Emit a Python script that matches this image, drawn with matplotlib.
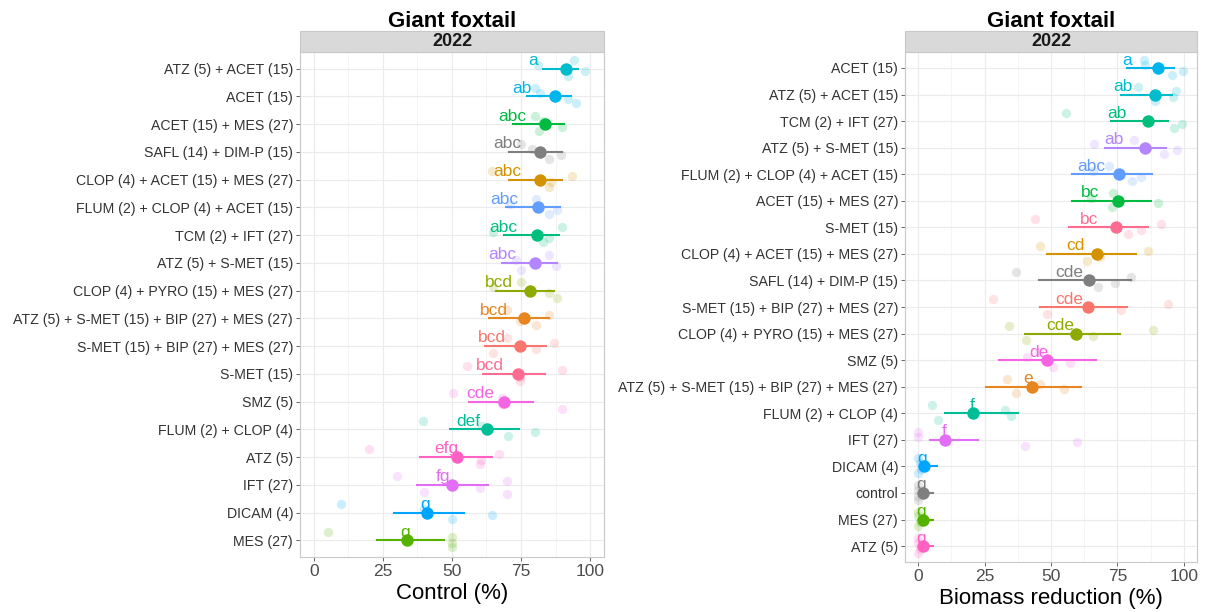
import numpy as np
import matplotlib
matplotlib.use("Agg")
import matplotlib.pyplot as plt
from matplotlib.patches import Rectangle

plt.rcParams['font.family'] = ['Liberation Sans', 'DejaVu Sans']

# treatment colours (shared by both panels)
pal = {
    'S-MET (15) + BIP (27) + MES (27)': '#F8766D',
    'ATZ (5) + S-MET (15) + BIP (27) + MES (27)': '#E7851E',
    'CLOP (4) + ACET (15) + MES (27)': '#D39200',
    'CLOP (4) + PYRO (15) + MES (27)': '#8DAA00',
    'MES (27)': '#55B300',
    'ACET (15) + MES (27)': '#00BA42',
    'TCM (2) + IFT (27)': '#00BF7D',
    'FLUM (2) + CLOP (4)': '#00BE98',
    'ATZ (5) + ACET (15)': '#00BCCC',
    'ACET (15)': '#00B4EC',
    'DICAM (4)': '#00A5FF',
    'FLUM (2) + CLOP (4) + ACET (15)': '#619CFF',
    'ATZ (5) + S-MET (15)': '#B385FF',
    'IFT (27)': '#E36EF6',
    'SMZ (5)': '#F564E3',
    'ATZ (5)': '#FF61C3',
    'S-MET (15)': '#FF6C91',
    'SAFL (14) + DIM-P (15)': '#7F7F7F',
    'control': '#7F7F7F',
}

# ---- control (%) ----
ctrl_trt = ['ATZ (5) + ACET (15)', 'ACET (15)', 'ACET (15) + MES (27)',
            'SAFL (14) + DIM-P (15)', 'CLOP (4) + ACET (15) + MES (27)',
            'FLUM (2) + CLOP (4) + ACET (15)', 'TCM (2) + IFT (27)',
            'ATZ (5) + S-MET (15)', 'CLOP (4) + PYRO (15) + MES (27)',
            'ATZ (5) + S-MET (15) + BIP (27) + MES (27)',
            'S-MET (15) + BIP (27) + MES (27)', 'S-MET (15)', 'SMZ (5)',
            'FLUM (2) + CLOP (4)', 'ATZ (5)', 'IFT (27)', 'DICAM (4)', 'MES (27)']
ctrl_mean = [91.3, 87.3, 83.7, 82, 82, 81, 80.7, 80, 78.3, 76, 74.6, 74, 69,
             62.8, 51.8, 50, 41, 33.7]
ctrl_lo = [83, 77, 72, 70.5, 70.5, 69.5, 69, 68, 66, 63.4, 62, 61.4, 56,
           49.3, 38.6, 37.2, 29, 22.8]
ctrl_hi = [95.6, 93, 90.6, 90, 90, 89, 88.7, 88, 87, 85, 84, 83.7, 79.5,
           74.4, 64.5, 63, 54.3, 47]
ctrl_let = ['a', 'ab', 'abc', 'abc', 'abc', 'abc', 'abc', 'abc', 'bcd', 'bcd',
            'bcd', 'bcd', 'cde', 'def', 'efg', 'fg', 'g', 'g']
ctrl_raw = [[94, 92, 98, 81], [80, 95, 92, 82], [80, 81.5, 90, 83],
            [75, 85, 89.5, 79], [64.5, 85, 86, 93.5], [80.4, 85, 88, 71],
            [90, 83, 85, 65], [85, 75, 87.7, 73], [75, 88, 85, 65],
            [70, 80.4, 74.6, 85], [70, 65, 80.4, 87], [55.3, 74.6, 74.6, 90],
            [50.4, 90, 68, 68], [39.5, 70.3, 80, 61], [20, 60, 60.4, 67],
            [30, 40, 60, 70, 70], [10, 50, 64.5, 40], [5, 50, 50, 50]]

# ---- biomass reduction (%) ----
bio_trt = ['ACET (15)', 'ATZ (5) + ACET (15)', 'TCM (2) + IFT (27)',
           'ATZ (5) + S-MET (15)', 'FLUM (2) + CLOP (4) + ACET (15)',
           'ACET (15) + MES (27)', 'S-MET (15)', 'CLOP (4) + ACET (15) + MES (27)',
           'SAFL (14) + DIM-P (15)', 'S-MET (15) + BIP (27) + MES (27)',
           'CLOP (4) + PYRO (15) + MES (27)', 'SMZ (5)',
           'ATZ (5) + S-MET (15) + BIP (27) + MES (27)', 'FLUM (2) + CLOP (4)',
           'IFT (27)', 'DICAM (4)', 'control', 'MES (27)', 'ATZ (5)']
bio_mean = [90.5, 89, 86.7, 85.6, 75.8, 75.4, 74.6, 67.4, 64.4, 64, 59.5,
            48.5, 42.8, 20.8, 10.2, 2, 1.6, 1.6, 1.6]
bio_lo = [78.8, 76.5, 72.7, 70.5, 57.9, 57.9, 56.8, 48.5, 45.5, 45.8, 40.2,
          30.3, 25.4, 10.2, 4.5, 0.5, 0.5, 0.5, 0.5]
bio_hi = [96.2, 95.5, 93.9, 93.5, 87.9, 87.5, 86.7, 82, 80, 78.8, 76, 67,
          61.4, 37.5, 22.4, 7.2, 5.7, 5.7, 5.7]
bio_let = ['a', 'ab', 'ab', 'ab', 'abc', 'bc', 'bc', 'cd', 'cde', 'cde', 'cde',
           'de', 'e', 'f', 'f', 'g', 'g', 'g', 'g']
bio_raw = [[85, 95.5, 99.6, 85.6], [82.6, 89, 95.8, 97], [55.7, 96.2, 99.2],
           [81.4, 92.4, 97.3, 66.3], [72, 80.7, 84, 66], [73.5, 73, 90.5, 65],
           [44, 79, 84, 91.3], [46, 63.6, 68.5, 86.7], [37, 67.8, 74.2, 80],
           [28, 48.5, 76.5, 93.9], [34, 40.5, 65.9, 88.6], [45.5, 50.8, 57.2, 41],
           [33.3, 37, 55, 46], [5.2, 7.6, 35, 32.6], [0, 40.2, 59.8, 0],
           [0, 0, 1, 0.5], [0, 0, 0, 0], [0, 0, 0.5, 0], [0, 0, 0.5, 0]]

# fixed vertical spread for the raw observations
spread = [-0.3, 0.25, 0.1, -0.12, 0.32]


def panel(ax, trt, mean, lo, hi, letters, raw, xlabel):
    n = len(trt)
    rows = np.arange(n)
    ax.set_xlim(-5, 105)
    ax.set_ylim(n - 0.4, -0.6)
    ax.set_xticks([0, 25, 50, 75, 100])
    ax.set_xticks([12.5, 37.5, 62.5, 87.5], minor=True)
    ax.set_yticks(rows)
    ax.set_yticklabels(trt, fontsize=10.2, color='#333333')
    ax.tick_params(axis='x', labelsize=12.5, colors='#4D4D4D', length=3,
                   width=0.6, pad=2)
    ax.tick_params(axis='y', colors='#4D4D4D', length=3, width=0.6, pad=2)
    ax.tick_params(axis='x', which='minor', length=0)
    for lab in ax.get_yticklabels():
        lab.set_color('#333333')
    ax.grid(True, which='major', color='#EBEBEB', lw=0.8)
    ax.grid(True, which='minor', axis='x', color='#F4F4F4', lw=0.6)
    ax.set_axisbelow(True)
    for s in ax.spines.values():
        s.set_color('#C8C8C8')
        s.set_linewidth(0.8)

    for i in range(n):
        c = pal[trt[i]]
        pts = raw[i]
        ys = [i + spread[k % len(spread)] for k in range(len(pts))]
        ax.scatter(pts, ys, s=45, color=c, alpha=0.2, lw=0, zorder=2)
        ax.plot([lo[i], hi[i]], [i, i], color=c, lw=1.5, zorder=3)
        ax.scatter([mean[i]], [i], s=80, color=c, lw=0, zorder=4)
        shift = min(max(0.28 * (mean[i] - 38), 0.5), 12)
        ax.text(mean[i] - shift, i - 0.13, letters[i], color=c, fontsize=12.5,
                ha='center', va='baseline', zorder=5)

    ax.set_xlabel(xlabel, fontsize=16, labelpad=3)

    # facet strip and title
    strip = Rectangle((0, 1.0), 1, 0.041, transform=ax.transAxes,
                      facecolor='#D9D9D9', edgecolor='#C8C8C8', lw=0.8,
                      clip_on=False)
    ax.add_patch(strip)
    ax.text(0.5, 1.0205, '2022', transform=ax.transAxes, ha='center',
            va='center', fontsize=13, fontweight='bold', color='#1A1A1A')
    ax.text(0.5, 1.049, 'Giant foxtail', transform=ax.transAxes, ha='center',
            va='baseline', fontsize=16, fontweight='bold')


fig = plt.figure(figsize=(12.12, 6.12), dpi=100)
ax1 = fig.add_axes([0.2475, 0.090, 0.2508, 0.825])
ax2 = fig.add_axes([0.7467, 0.0817, 0.2409, 0.8333])
panel(ax1, ctrl_trt, ctrl_mean, ctrl_lo, ctrl_hi, ctrl_let, ctrl_raw,
      'Control (%)')
panel(ax2, bio_trt, bio_mean, bio_lo, bio_hi, bio_let, bio_raw,
      'Biomass reduction (%)')

fig.savefig('out.png', dpi=100)
